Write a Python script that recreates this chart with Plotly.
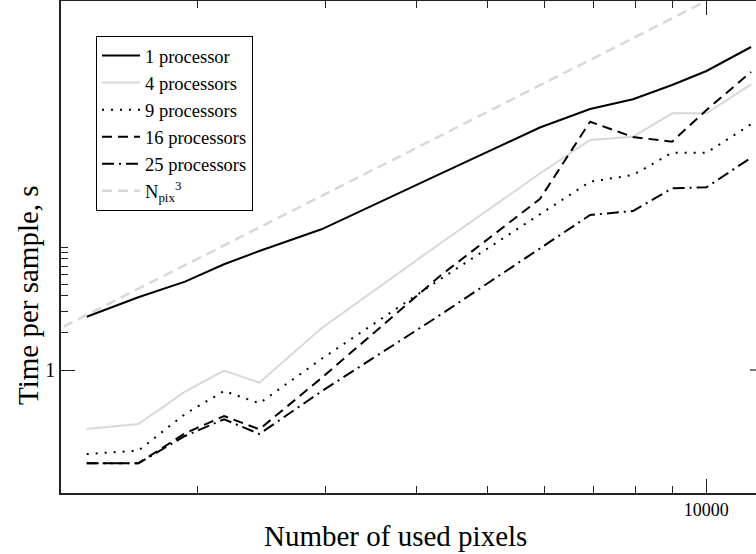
import plotly.graph_objects as go

# Number of used pixels (x) and time per sample in seconds (y)
npix = [1410, 1660, 1924, 2177, 2434, 2962, 4296, 5909, 6925, 7932, 8975, 10006, 11520]

t_1proc = [2.713, 3.900, 5.224, 7.234, 9.279, 13.93, 38.93, 93.64, 132.4, 158.8, 207.6, 269.7, 422.7]
t_4proc = [0.3314, 0.3639, 0.6663, 0.9907, 0.7882, 2.183, 10.54, 39.59, 74.11, 78.82, 122.2, 122.2, 210.3]
t_9proc = [0.2075, 0.2208, 0.4388, 0.6751, 0.5363, 1.229, 5.392, 18.55, 33.96, 38.49, 58.44, 58.44, 99.45]
t_16proc = [0.1743, 0.1743, 0.3058, 0.4227, 0.3295, 0.8607, 5.736, 24.56, 104.4, 78.39, 71.80, 129.9, 264.7]
t_25proc = [0.1743, 0.1743, 0.2906, 0.3974, 0.3017, 0.6699, 2.764, 9.759, 18.20, 19.62, 30.01, 30.58, 53.21]

# Reference scaling line t = (Npix / 1000)^3, given by two points on it
npix3_x = [1000, 10000]
npix3_y = [1, 1000]

x_tick_vals = [10000]
x_tick_text = ["10000"]
x_minor_vals = [2000, 3000, 4000, 5000, 6000, 7000, 8000, 9000]
y_tick_vals = [1]
y_tick_text = ["1"]
y_minor_vals = [2, 3, 4, 5, 6, 7, 8, 9, 10]

FONT = "Liberation Serif"
GREY = "#d8d8d8"

series = [
    ("1 processor", t_1proc, dict(color="black", width=2, dash="solid")),
    ("4 processors", t_4proc, dict(color=GREY, width=2, dash="solid")),
    ("9 processors", t_9proc, dict(color="black", width=2, dash="2px,7px")),
    ("16 processors", t_16proc, dict(color="black", width=2, dash="10px,6px")),
    ("25 processors", t_25proc, dict(color="black", width=2, dash="12px,5px,2px,5px")),
]

fig = go.Figure()
for name, ys, line in series:
    fig.add_trace(go.Scatter(x=npix, y=ys, mode="lines", name=name, line=line))

fig.add_trace(go.Scatter(
    x=npix3_x, y=npix3_y, mode="lines", name="N<sub>pix</sub><sup>3</sup>",
    line=dict(color=GREY, width=2.5, dash="10px,6px"),
))

plot_left, plot_top, plot_bottom = 61, 1, 493
W, H = 756, 554
plot_w = W - plot_left
plot_h = plot_bottom - plot_top

fig.update_layout(
    width=W, height=H,
    margin=dict(l=plot_left, r=0, t=plot_top, b=H - plot_bottom, pad=0),
    paper_bgcolor="white", plot_bgcolor="white",
    font=dict(family=FONT, size=19, color="black"),
    showlegend=True,
    legend=dict(
        x=(96 - plot_left) / plot_w, y=1 - (36 - plot_top) / plot_h,
        xanchor="left", yanchor="top",
        bordercolor="black", borderwidth=1, bgcolor="white",
        font=dict(family=FONT, size=18.5, color="black"),
        tracegroupgap=0, itemwidth=38,
    ),
)

fig.update_xaxes(
    type="log", range=[3.11394, 4.06825],
    showgrid=False, zeroline=False,
    showline=True, linecolor="#222", linewidth=1.5, mirror="ticks",
    ticks="inside", ticklen=14, tickwidth=1.2, tickcolor="#222",
    tickmode="array", tickvals=x_tick_vals, ticktext=x_tick_text,
    tickfont=dict(family=FONT, size=18, color="black"),
    minor=dict(tickmode="array", tickvals=x_minor_vals, ticks="inside",
               ticklen=7, tickwidth=1.2, tickcolor="#222", showgrid=False),
)
fig.update_yaxes(
    type="log", range=[-1, 3],
    showgrid=False, zeroline=False,
    showline=True, linecolor="#222", linewidth=1.5, mirror=False,
    ticks="inside", ticklen=14, tickwidth=1.2, tickcolor="#222",
    tickmode="array", tickvals=y_tick_vals, ticktext=y_tick_text,
    tickfont=dict(family=FONT, size=20, color="black"),
    minor=dict(tickmode="array", tickvals=y_minor_vals, ticks="inside",
               ticklen=7, tickwidth=1.2, tickcolor="#222", showgrid=False),
)

# Tick at y = 1 on the right-hand side
fig.add_shape(type="line", xref="paper", yref="y",
              x0=1 - 6 / plot_w, x1=1, y0=1, y1=1,
              line=dict(color="#222", width=1.2))

# Axis titles
fig.add_annotation(text="Number of used pixels", xref="paper", yref="paper",
                   x=(395 - plot_left) / plot_w, y=1 - (536 - plot_top) / plot_h,
                   xanchor="center", yanchor="middle", showarrow=False,
                   font=dict(family=FONT, size=29, color="black"))
fig.add_annotation(text="Time per sample, s", xref="paper", yref="paper",
                   x=(28 - plot_left) / plot_w, y=1 - (295 - plot_top) / plot_h,
                   xanchor="center", yanchor="middle", showarrow=False, textangle=-90,
                   font=dict(family=FONT, size=29, color="black"))

fig.write_html("out.html")
